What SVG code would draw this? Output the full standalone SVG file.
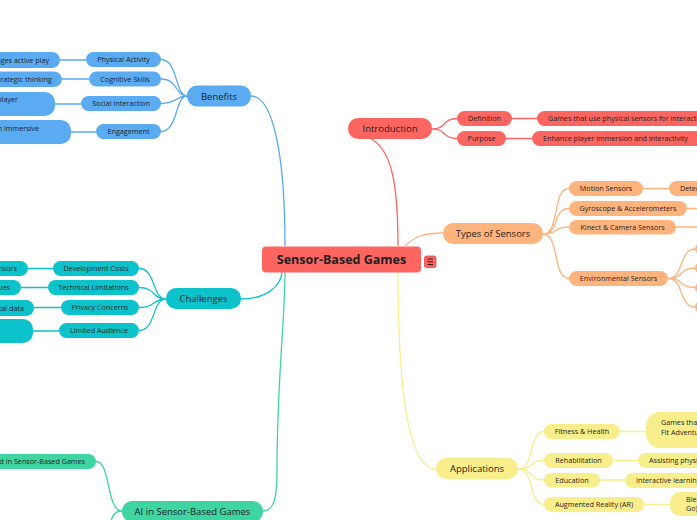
<svg xmlns="http://www.w3.org/2000/svg" width="697" height="520" viewBox="0 0 697 520">
<style>
text{font-family:"Open Sans","Noto Sans","DejaVu Sans",sans-serif;fill:#1f1f1f}
.c{font-size:7.2px}
.b{font-size:9.5px;text-anchor:middle}
.m{text-anchor:middle}
.e{text-anchor:end}
.ln{fill:none;stroke-width:1.3}
.bl{fill:#5aabf2}.cy{fill:#0cc3cc}.gr{fill:#3fd5a3}.rd{fill:#fd6660}.or{fill:#ffb47e}.ye{fill:#f8ee8b}
.lbl{stroke:#5aabf2}.lcy{stroke:#0cc3cc}.lgr{stroke:#3fd5a3}.lrd{stroke:#fd6660}.lor{stroke:#ffb47e}.lye{stroke:#f8ee8b}
</style>
<rect width="697" height="520" fill="#ffffff"/>
<g id="connectors">
<path class="ln lbl" d="M251,96 C272,96 285,150 285,246"/>
<path class="ln lcy" d="M241,299 C265,299 281,287 282,272"/>
<path class="ln lgr" d="M263,511 C275,511 277,495 277,470 C277,380 285,320 285,272"/>
<path class="ln lrd" d="M398,246 C398,185 392,150 371,139"/>
<path class="ln lor" d="M405,246 C415,236 425,233 443,233"/>
<path class="ln lye" d="M398,272 C398,400 410,469 436,469"/>
<path class="ln lbl" d="M161,59.5 C178,59.5 175,96 187,96 M161,79 C178,79 175,96 187,96 M161,103.5 C178,103.5 175,96 187,96 M161,131.5 C178,131.5 175,96 187,96"/>
<path class="ln lbl" d="M60,60 L86,60 M62,79 L89,79 M55,104 L81,104 M71,132 L96,132"/>
<path class="ln lcy" d="M139,268.5 C156,268.5 152,299 166,299 M139,287.5 C156,287.5 152,299 166,299 M139,307.5 C156,307.5 152,299 166,299 M139,330.5 C156,330.5 152,299 166,299"/>
<path class="ln lcy" d="M28,268.5 L53,268.5 M21,287.5 L48,287.5 M34,307.5 L61,307.5 M33,331 L59,331"/>
<path class="ln lgr" d="M122,511 C106,511 111,461.5 96,461.5 M122,511 C108,511 110,530 110,545"/>
<path class="ln lrd" d="M432,129 C447,129 442,118.5 457,118.5 M432,129 C447,129 442,138.5 457,138.5 M512,118.5 L537,118.5 M506,138.5 L532,138.5"/>
<path class="ln lor" d="M543,234 C560,234 552,188.5 569,188.5 M543,234 C560,234 552,208.5 569,208.5 M543,234 C560,234 552,227 569,227 M543,234 C560,234 552,278.5 569,278.5"/>
<path class="ln lor" d="M643,188.5 L669,188.5 M687,208.5 L697,208.5 M676,227 L697,227"/>
<path class="ln lor" d="M668,278.5 C684,278.5 679,249 695,249 M668,278.5 C684,278.5 679,268 695,268 M668,278.5 C684,278.5 679,287.5 695,287.5 M668,278.5 C684,278.5 679,307 695,307"/>
<path class="ln lye" d="M518,469 C535,469 528,431.5 544,431.5 M518,469 C535,469 528,460.5 544,460.5 M518,469 C535,469 528,480 544,480 M518,469 C535,469 528,504.5 544,504.5"/>
<path class="ln lye" d="M620,431.5 L646,431.5 M613,460.5 L638,460.5 M600,480 L625,480 M644,504.5 L670,504.5"/>
</g>
<g id="center">
<rect x="262" y="246.5" width="159" height="26" rx="4" class="rd"/>
<text x="341.5" y="264" class="m" style="font-size:12.5px;font-weight:bold">Sensor-Based Games</text>
<rect x="424.5" y="256" width="11.5" height="11.5" rx="2" fill="#fd6660" stroke="#e04848" stroke-width="0.8"/>
<path d="M427.5,259 h5.5 M427.5,261.8 h5.5 M427.5,264.6 h5.5" stroke="#3a1a1a" stroke-width="1"/>
</g>
<g id="benefits">
<rect x="187" y="85.5" width="64" height="21" rx="10" class="bl"/>
<text x="219" y="99.5" class="b">Benefits</text>
</g>
<g id="physical-activity"><rect x="86" y="52" width="75" height="15" rx="7.5" class="bl"/><text x="123.5" y="62" class="c m">Physical Activity</text></g>
<g id="cognitive-skills"><rect x="89" y="71.5" width="72" height="15" rx="7.5" class="bl"/><text x="125" y="81.5" class="c m">Cognitive Skills</text></g>
<g id="social-interaction"><rect x="81" y="96" width="80" height="15" rx="7.5" class="bl"/><text x="121" y="106" class="c m">Social Interaction</text></g>
<g id="engagement"><rect x="96" y="124" width="65" height="15" rx="7.5" class="bl"/><text x="128.5" y="134" class="c m">Engagement</text></g>
<g id="b1"><rect x="-60" y="52" width="120" height="16" rx="8" class="bl"/><text x="49" y="62.5" class="c e">Encourages active play</text></g>
<g id="b2"><rect x="-60" y="71.5" width="122" height="15.5" rx="8" class="bl"/><text x="52" y="82" class="c e">Enhances strategic thinking</text></g>
<g id="b3"><rect x="-60" y="92" width="115" height="24" rx="10" class="bl"/><text x="18" y="101.5" class="c e">Fosters multiplayer</text><text x="-52" y="110.5" class="c">interaction</text></g>
<g id="b4"><rect x="-60" y="120" width="131" height="24" rx="10" class="bl"/><text x="39" y="130.5" class="c e">Provides an immersive</text><text x="-45" y="139.5" class="c">experience</text></g>
<g id="challenges">
<rect x="166" y="288" width="75" height="21" rx="10" class="cy"/>
<text x="203.5" y="302" class="b">Challenges</text>
</g>
<g id="development-costs"><rect x="53" y="261" width="86" height="15" rx="7.5" class="cy"/><text x="96" y="271" class="c m">Development Costs</text></g>
<g id="technical-limitations"><rect x="48" y="280" width="91" height="15" rx="7.5" class="cy"/><text x="93.5" y="290" class="c m">Technical Limitations</text></g>
<g id="privacy-concerns"><rect x="61" y="300" width="78" height="15" rx="7.5" class="cy"/><text x="100" y="310" class="c m">Privacy Concerns</text></g>
<g id="limited-audience"><rect x="59" y="323" width="80" height="15" rx="7.5" class="cy"/><text x="99" y="333" class="c m">Limited Audience</text></g>
<g id="c1"><rect x="-80" y="261" width="108" height="15" rx="7.5" class="cy"/><text x="17" y="271" class="c e">High cost of sensors</text></g>
<g id="c2"><rect x="-120" y="280" width="141" height="15" rx="7.5" class="cy"/><text x="10" y="290" class="c e">Calibration and accuracy issues</text></g>
<g id="c3"><rect x="-100" y="300" width="134" height="16" rx="8" class="cy"/><text x="24" y="310.5" class="c e">Handling of personal and vital data</text></g>
<g id="c4"><rect x="-100" y="319" width="133" height="24" rx="10" class="cy"/><text x="-90" y="329" class="c">Requires specific hardware</text></g>
<g id="ai">
<rect x="122" y="501" width="141" height="21" rx="10" class="gr"/>
<text x="192.5" y="515" class="b">AI in Sensor-Based Games</text>
</g>
<g id="ai1"><rect x="-80" y="454" width="176" height="15" rx="7.5" class="gr"/><text x="85" y="464" class="c e">How AI is Used in Sensor-Based Games</text></g>
<g id="introduction">
<rect x="348" y="118" width="84" height="21" rx="10" class="rd"/>
<text x="390" y="132" class="b">Introduction</text>
</g>
<g id="definition"><rect x="457" y="111" width="55" height="15" rx="7.5" class="rd"/><text x="484.5" y="121" class="c m">Definition</text></g>
<g id="purpose"><rect x="457" y="131" width="49" height="15" rx="7.5" class="rd"/><text x="481.5" y="141" class="c m">Purpose</text></g>
<g id="i1"><rect x="537" y="111" width="200" height="15" rx="7.5" class="rd"/><text x="548" y="121" class="c">Games that use physical sensors for interaction</text></g>
<g id="i2"><rect x="532" y="131" width="172" height="15" rx="7.5" class="rd"/><text x="543" y="141" class="c">Enhance player immersion and interactivity</text></g>
<g id="types">
<rect x="443" y="223" width="100" height="21" rx="10" class="or"/>
<text x="493" y="237" class="b">Types of Sensors</text>
</g>
<g id="motion"><rect x="569" y="181" width="74" height="15" rx="7.5" class="or"/><text x="606" y="191" class="c m">Motion Sensors</text></g>
<g id="gyro"><rect x="569" y="201" width="118" height="15" rx="7.5" class="or"/><text x="628" y="211" class="c m">Gyroscope &amp; Accelerometers</text></g>
<g id="kinect"><rect x="569" y="220" width="107" height="14.5" rx="7.5" class="or"/><text x="622.5" y="230" class="c m">Kinect &amp; Camera Sensors</text></g>
<g id="environmental"><rect x="569" y="271" width="99" height="15" rx="7.5" class="or"/><text x="618.5" y="281" class="c m">Environmental Sensors</text></g>
<g id="t1"><rect x="669" y="181" width="80" height="15" rx="7.5" class="or"/><text x="680" y="191" class="c">Detects movement</text></g>
<g id="t2"><rect x="695" y="243" width="40" height="12" rx="6" class="or"/></g>
<g id="t3"><rect x="695" y="262" width="40" height="12" rx="6" class="or"/></g>
<g id="t4"><rect x="695" y="282" width="40" height="11.5" rx="6" class="or"/></g>
<g id="t5"><rect x="695" y="301" width="40" height="12" rx="6" class="or"/></g>
<g id="applications">
<rect x="436" y="458" width="82" height="21" rx="10" class="ye"/>
<text x="477" y="472" class="b">Applications</text>
</g>
<g id="fitness"><rect x="544" y="424" width="76" height="15" rx="7.5" class="ye"/><text x="582" y="434" class="c m">Fitness &amp; Health</text></g>
<g id="rehab"><rect x="544" y="453" width="69" height="15" rx="7.5" class="ye"/><text x="578.5" y="463" class="c m">Rehabilitation</text></g>
<g id="education"><rect x="544" y="473" width="56" height="14.5" rx="7.5" class="ye"/><text x="572" y="483" class="c m">Education</text></g>
<g id="ar"><rect x="544" y="497" width="100" height="15" rx="7.5" class="ye"/><text x="594" y="507" class="c m">Augmented Reality (AR)</text></g>
<g id="a1"><rect x="646" y="412" width="160" height="36" rx="14" class="ye"/><text x="661" y="424.5" class="c">Games that promote exercise (e.g., Ring</text><text x="661" y="434.5" class="c">Fit Adventure)</text></g>
<g id="a2"><rect x="638" y="453" width="140" height="15" rx="7.5" class="ye"/><text x="649" y="463" class="c">Assisting physical therapy</text></g>
<g id="a3"><rect x="625" y="473" width="150" height="15" rx="7.5" class="ye"/><text x="636" y="483" class="c">Interactive learning experiences</text></g>
<g id="a4"><rect x="670" y="492" width="170" height="24" rx="10" class="ye"/><text x="686" y="502" class="c">Blends real and virtual worlds (e.g., Pokémon</text><text x="686" y="511" class="c">Go)</text></g>
</svg>
